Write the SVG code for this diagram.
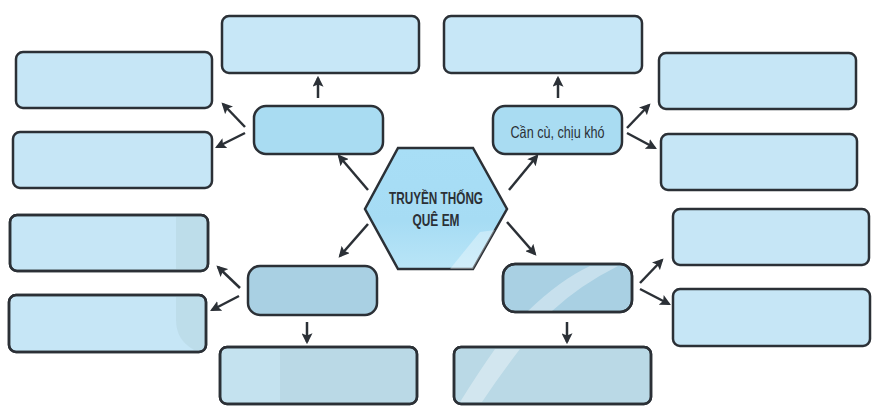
<svg xmlns="http://www.w3.org/2000/svg" width="882" height="419" viewBox="0 0 882 419">
<defs>
<style>
.box{stroke:#2b3036;stroke-width:2.5}
.top{fill:#c7e7f7}
.mid{fill:#a9dcf2}
.low{fill:#a9d0e3}
.bot{fill:#bad9e6}
.side{fill:#c6e6f6}
.con line{stroke:#2b3036;stroke-width:2.5;marker-end:url(#ah)}
.t{font-family:"Liberation Sans",Arial,sans-serif;fill:#2b3036}
.hl{fill:#ffffff;opacity:0.35}
</style>
<marker id="ah" viewBox="0 0 10 10" refX="8" refY="5" markerWidth="4.4" markerHeight="4.4" orient="auto" markerUnits="strokeWidth">
<path d="M0,0 L10,5 L0,10 L2,5 Z" fill="#2b3036"/>
</marker>
<linearGradient id="hexg" x1="0" y1="0" x2="0" y2="1">
<stop offset="0" stop-color="#a8def6"/>
<stop offset="0.6" stop-color="#a6dcf4"/>
<stop offset="1" stop-color="#b9e5f7"/>
</linearGradient>
</defs>
<rect width="882" height="419" fill="#ffffff"/>

<g id="n-top-left"><rect class="box top" x="222" y="16" width="197" height="57" rx="7"/></g>
<g id="n-top-right"><rect class="box top" x="444" y="16" width="198" height="57" rx="7"/></g>

<g id="n-left-1"><rect class="box side" x="16" y="52" width="196" height="56" rx="7"/></g>
<g id="n-left-2"><rect class="box side" x="13" y="132" width="199" height="56" rx="7"/></g>
<g id="n-right-1"><rect class="box side" x="659" y="53" width="197" height="56" rx="7"/></g>
<g id="n-right-2"><rect class="box side" x="661" y="134" width="196" height="56" rx="7"/></g>

<g id="n-mid-ul"><rect class="box mid" x="254" y="106" width="129" height="48" rx="12"/></g>
<g id="n-mid-ur"><rect class="box mid" x="493" y="106" width="129" height="48" rx="12"/>
<text class="t" x="557.5" y="137.5" font-size="16.5" text-anchor="middle" textLength="94" lengthAdjust="spacingAndGlyphs">Cần cù, chịu khó</text></g>

<g id="n-center">
<polygon class="box" fill="url(#hexg)" points="398,148 473,148 507,209 473,269 398,269 365,209"/>
<polygon class="hl" points="450,269 473,269 495,230 480,232" opacity="0.25"/>
<text class="t" x="436" y="203.5" font-size="16.5" font-weight="bold" text-anchor="middle" textLength="94" lengthAdjust="spacingAndGlyphs">TRUYỀN THỐNG</text>
<text class="t" x="436" y="225.5" font-size="16.5" font-weight="bold" text-anchor="middle" textLength="47" lengthAdjust="spacingAndGlyphs">QUÊ EM</text>
</g>

<g id="n-lowleft-1"><rect class="box side" x="10" y="215" width="198" height="56" rx="7"/><rect x="176" y="217" width="30" height="52" fill="#b9d9e6" opacity="0.7"/><rect class="box" fill="none" x="10" y="215" width="198" height="56" rx="7"/></g>
<g id="n-lowleft-2"><rect class="box side" x="9" y="295" width="197" height="57" rx="7"/><path d="M176,297 L204,297 L204,350 L194,350 Q176,340 176,320 Z" fill="#b9d9e6" opacity="0.7"/><rect class="box" fill="none" x="9" y="295" width="197" height="57" rx="7"/></g>
<g id="n-lowright-1"><rect class="box side" x="673" y="209" width="196" height="56" rx="7"/></g>
<g id="n-lowright-2"><rect class="box side" x="673" y="289" width="197" height="57" rx="7"/></g>

<g id="n-mid-ll"><rect class="box low" x="248" y="266" width="129" height="49" rx="12"/></g>
<g id="n-mid-lr"><rect class="box low" x="503" y="264" width="129" height="48" rx="12"/>
<path d="M528,311 Q560,280 590,266 L618,266 Q580,285 552,311 Z" class="hl"/>
<rect class="box" fill="none" x="503" y="264" width="129" height="48" rx="12"/></g>

<g id="n-bot-left"><rect class="box bot" x="220" y="347" width="197" height="57" rx="7"/>
<rect x="222" y="349" width="58" height="53" fill="#cbe8f5" opacity="0.6"/>
<rect class="box" fill="none" x="220" y="347" width="197" height="57" rx="7"/></g>
<g id="n-bot-right"><rect class="box bot" x="454" y="347" width="197" height="57" rx="7"/>
<path d="M460,402 Q480,370 495,349 L520,349 Q500,375 482,402 Z" class="hl"/>
<rect class="box" fill="none" x="454" y="347" width="197" height="57" rx="7"/></g>

<g class="con" id="connectors">
<line x1="368" y1="190" x2="339" y2="156"/>
<line x1="509" y1="190" x2="537" y2="156"/>
<line x1="368" y1="224" x2="340" y2="256"/>
<line x1="507" y1="222" x2="535" y2="254"/>
<line x1="318" y1="98" x2="318" y2="78"/>
<line x1="558" y1="98" x2="558" y2="78"/>
<line x1="245" y1="127" x2="223" y2="104"/>
<line x1="245" y1="133" x2="217" y2="147"/>
<line x1="627" y1="128" x2="649" y2="105"/>
<line x1="627" y1="133" x2="655" y2="148"/>
<line x1="240" y1="288" x2="218" y2="267"/>
<line x1="239" y1="296" x2="212" y2="310"/>
<line x1="640" y1="283" x2="662" y2="260"/>
<line x1="640" y1="289" x2="669" y2="304"/>
<line x1="307" y1="322" x2="307" y2="342"/>
<line x1="567" y1="322" x2="567" y2="342"/>
</g>
</svg>
